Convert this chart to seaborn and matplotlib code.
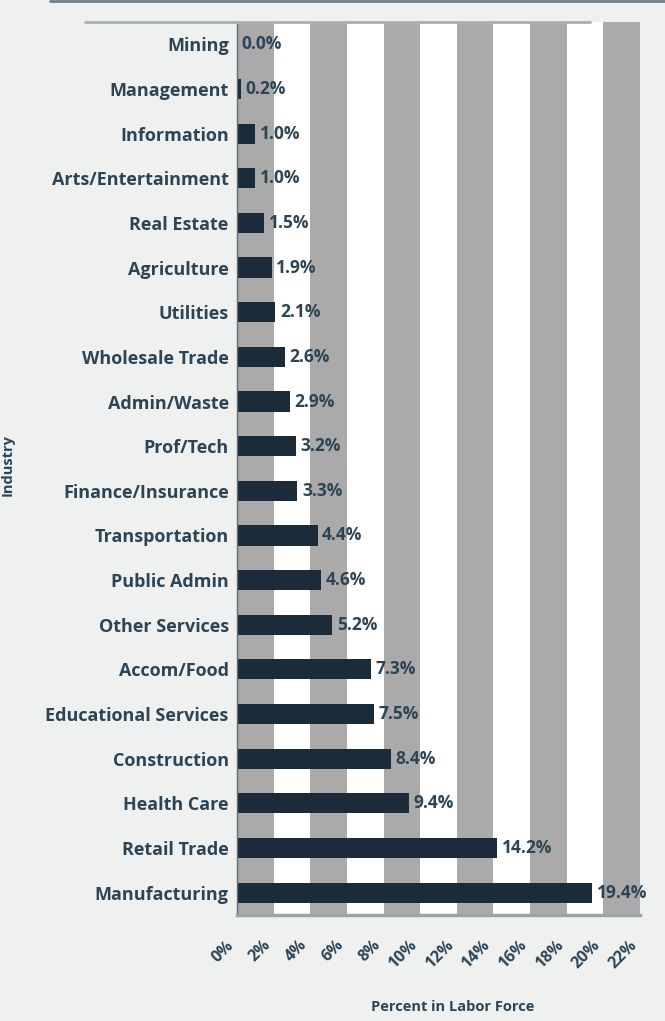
import numpy as np
import pandas as pd
import matplotlib.pyplot as plt
from matplotlib.lines import Line2D
import seaborn as sns

industries = ["Mining", "Management", "Information", "Arts/Entertainment", "Real Estate",
              "Agriculture", "Utilities", "Wholesale Trade", "Admin/Waste", "Prof/Tech",
              "Finance/Insurance", "Transportation", "Public Admin", "Other Services",
              "Accom/Food", "Educational Services", "Construction", "Health Care",
              "Retail Trade", "Manufacturing"]
percents = [0.0, 0.2, 1.0, 1.0, 1.5, 1.9, 2.1, 2.6, 2.9, 3.2,
            3.3, 4.4, 4.6, 5.2, 7.3, 7.5, 8.4, 9.4, 14.2, 19.4]
x_ticks = list(range(0, 23, 2))

df = pd.DataFrame({"Industry": industries, "Percent": percents})

sns.set_theme(style="white")
plt.rcParams["font.family"] = ["Open Sans", "DejaVu Sans"]

text_col = "#2c4454"
bar_col = "#1c2b3a"

fig = plt.figure(figsize=(6.65, 10.21), dpi=100, facecolor="#eff1f1")
ax = fig.add_axes([0.3564, 0.1038, 0.606, 0.8747])
ax.set_facecolor("white")

# alternating gray bands
for lo in x_ticks[::2]:
    ax.axvspan(lo, lo + 2, color="#aaaaaa", lw=0, zorder=0)

sns.barplot(data=df, y="Industry", x="Percent", orient="h", color=bar_col,
            width=0.45, saturation=1, linewidth=0, ax=ax, zorder=2)

for i, v in enumerate(percents):
    ax.text(v + 0.25, i, f"{v:.1f}%", va="center", ha="left", fontsize=12.5,
            fontweight="bold", color=text_col, zorder=3)

ax.set_xlim(0, 22)
ax.set_ylim(19.5, -0.5)
ax.set_xticks(x_ticks)
ax.set_xticklabels([f"{t}%" for t in x_ticks], rotation=45, ha="right",
                   fontsize=11.5, fontweight="bold", color=text_col)
ax.tick_params(axis="x", length=0, pad=16)
ax.tick_params(axis="y", length=0, pad=6)
for lab in ax.get_yticklabels():
    lab.set_fontsize(13)
    lab.set_fontweight("bold")
    lab.set_color(text_col)

ax.set_ylabel("")
ax.set_xlabel("")
fig.text(0.68, 0.014, "Percent in Labor Force", ha="center", va="center",
         fontsize=10.5, fontweight="bold", color=text_col)
fig.text(0.012, 0.545, "Industry", ha="center", va="center", rotation=90,
         fontsize=10.5, fontweight="bold", color=text_col)

for s in ["top", "right"]:
    ax.spines[s].set_visible(False)
ax.spines["left"].set_color("#5b6f7a")
ax.spines["left"].set_linewidth(1)
ax.spines["bottom"].set_color("#9aa5aa")
ax.spines["bottom"].set_linewidth(2.5)

# frame lines from the original layout
fig.add_artist(Line2D([85 / 665, 590 / 665], [1 - 22 / 1021] * 2, color="#a8b0b3", lw=2))
fig.add_artist(Line2D([50 / 665, 1.0], [0.999, 0.999], color="#6f8088", lw=2))

fig.savefig("out.png", dpi=100, facecolor=fig.get_facecolor())
